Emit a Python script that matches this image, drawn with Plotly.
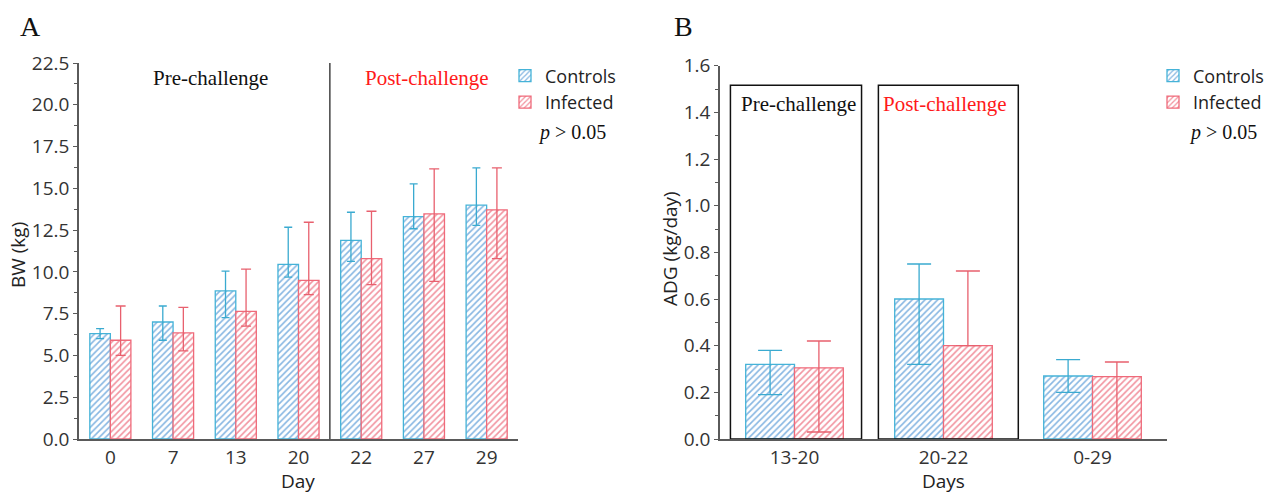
import plotly.graph_objects as go

# ---------- data ----------
days = ["0", "7", "13", "20", "22", "27", "29"]
bw_ctrl = [6.30, 7.00, 8.86, 10.45, 11.88, 13.31, 13.99]
bw_ctrl_hi = [6.61, 7.96, 10.05, 12.67, 13.57, 15.27, 16.22]
bw_ctrl_lo = [6.01, 5.91, 7.26, 9.69, 10.63, 12.58, 12.78]
bw_inf = [5.91, 6.35, 7.64, 9.49, 10.79, 13.47, 13.71]
bw_inf_hi = [7.96, 7.88, 10.17, 12.97, 13.63, 16.16, 16.22]
bw_inf_lo = [5.00, 5.27, 6.75, 8.64, 9.24, 9.43, 10.79]

periods = ["13-20", "20-22", "0-29"]
adg_ctrl = [0.32, 0.60, 0.27]
adg_ctrl_hi = [0.38, 0.75, 0.34]
adg_ctrl_lo = [0.19, 0.32, 0.20]
adg_inf = [0.305, 0.40, 0.267]
adg_inf_hi = [0.42, 0.72, 0.33]
adg_inf_lo = [0.03, 0.40, 0.00]

# ---------- styles ----------
C_LINE, C_HATCH, C_ERR = "#45b3d8", "#86b6e2", "#3aaad0"
I_LINE, I_HATCH, I_ERR = "#ef6a7a", "#f2939f", "#e8606e"
SANS = "Open Sans"
SERIF = "Liberation Serif"
AX = "#5a5a5a"


def bar(x, y, hi, lo, name, line, hatch, err, xa, ya, legend, capw):
    return go.Bar(
        x=x, y=y, name=name, xaxis=xa, yaxis=ya, legend=legend,
        marker=dict(color="rgba(0,0,0,0)", line=dict(color=line, width=1.3),
                    pattern=dict(shape="/", fgcolor=hatch, bgcolor="white",
                                 size=4.5, solidity=0.35, fillmode="replace")),
        error_y=dict(type="data", symmetric=False,
                     array=[h - v for h, v in zip(hi, y)],
                     arrayminus=[v - l for v, l in zip(y, lo)],
                     color=err, thickness=1.3, width=capw),
    )


fig = go.Figure()
fig.add_trace(bar(days, bw_ctrl, bw_ctrl_hi, bw_ctrl_lo, "Controls", C_LINE, C_HATCH, C_ERR, "x", "y", "legend", 4))
fig.add_trace(bar(days, bw_inf, bw_inf_hi, bw_inf_lo, "Infected", I_LINE, I_HATCH, I_ERR, "x", "y", "legend", 5))
fig.add_trace(bar(periods, adg_ctrl, adg_ctrl_hi, adg_ctrl_lo, "Controls", C_LINE, C_HATCH, C_ERR, "x2", "y2", "legend2", 12))
fig.add_trace(bar(periods, adg_inf, adg_inf_hi, adg_inf_lo, "Infected", I_LINE, I_HATCH, I_ERR, "x2", "y2", "legend2", 12))

W, H = 1275, 493
axis_common = dict(showline=True, linecolor=AX, linewidth=1.5, showgrid=False,
                   zeroline=False, automargin=False,
                   tickfont=dict(family=SANS, size=19, color="#333"))

fig.update_layout(
    template="none",
    width=W, height=H, margin=dict(l=0, r=0, t=0, b=0, pad=0, autoexpand=False),
    paper_bgcolor="white", plot_bgcolor="white",
    barmode="group", bargap=0.345, bargroupgap=0,
    xaxis=dict(domain=[79 / W, 518 / W], anchor="y", type="category",
               range=[-0.5, 6.5], ticks="", **axis_common),
    yaxis=dict(domain=[(H - 439) / H, (H - 63) / H], anchor="x", range=[0, 22.5],
               dtick=2.5, tickformat=".1f", ticks="outside", ticklen=4, tickcolor=AX,
               minor=dict(dtick=1.25, ticks="outside", ticklen=3, tickcolor=AX),
               **axis_common),
    xaxis2=dict(domain=[720 / W, 1167 / W], anchor="y2", type="category",
                range=[-0.5, 2.5], ticks="", **axis_common),
    yaxis2=dict(domain=[(H - 439) / H, (H - 65.7) / H], anchor="x2", range=[0, 1.6],
                dtick=0.2, tickformat=".1f", ticks="outside", ticklen=4, tickcolor=AX,
                minor=dict(dtick=0.1, ticks="outside", ticklen=3, tickcolor=AX),
                **axis_common),
    legend=dict(x=505 / W, y=1 - 57.5 / H, xanchor="left", yanchor="top",
                font=dict(family=SANS, size=18, color="#222"), bgcolor="rgba(0,0,0,0)",
                itemwidth=30, tracegroupgap=0),
    legend2=dict(x=1153 / W, y=1 - 57.5 / H, xanchor="left", yanchor="top",
                 font=dict(family=SANS, size=18, color="#222"), bgcolor="rgba(0,0,0,0)",
                 itemwidth=30, tracegroupgap=0),
    showlegend=True,
)

# divider in panel A
fig.add_shape(type="line", xref="x", yref="y", x0=3.5, x1=3.5, y0=0, y1=22.5,
              line=dict(color="#444", width=1.5))
# boxes in panel B
fig.add_shape(type="rect", xref="x2", yref="y2", x0=-0.43, x1=0.45, y0=0, y1=1.516,
              line=dict(color="#111", width=1.5))
fig.add_shape(type="rect", xref="x2", yref="y2", x0=0.563, x1=1.502, y0=0, y1=1.516,
              line=dict(color="#111", width=1.5))


def ann(text, x, y, size, family, color="#222", angle=0):
    fig.add_annotation(text=text, x=x / W, y=1 - y / H, xref="paper", yref="paper",
                       showarrow=False, xanchor="center", yanchor="middle",
                       textangle=angle, font=dict(family=family, size=size, color=color))


ann("A", 30, 27, 28, SERIF, "#111")
ann("B", 683, 27, 28, SERIF, "#111")
ann("Pre-challenge", 210, 78, 21, SERIF, "#111")
ann("Post-challenge", 427, 78, 21, SERIF, "#ff1a1a")
ann("Pre-challenge", 798, 104, 21, SERIF, "#111")
ann("Post-challenge", 945, 104, 21, SERIF, "#ff1a1a")
ann("<i>p</i> > 0.05", 572, 132, 20, SERIF, "#111")
ann("<i>p</i> > 0.05", 1223, 132, 20, SERIF, "#111")
ann("BW (kg)", 18, 255, 19, SANS, "#222", angle=-90)
ann("ADG (kg/day)", 670, 249, 19, SANS, "#222", angle=-90)
ann("Day", 298, 481, 19, SANS, "#222")
ann("Days", 943, 481, 19, SANS, "#222")

fig.write_html("out.html", config={"displayModeBar": False},
               post_script="document.body.style.margin='0';")
